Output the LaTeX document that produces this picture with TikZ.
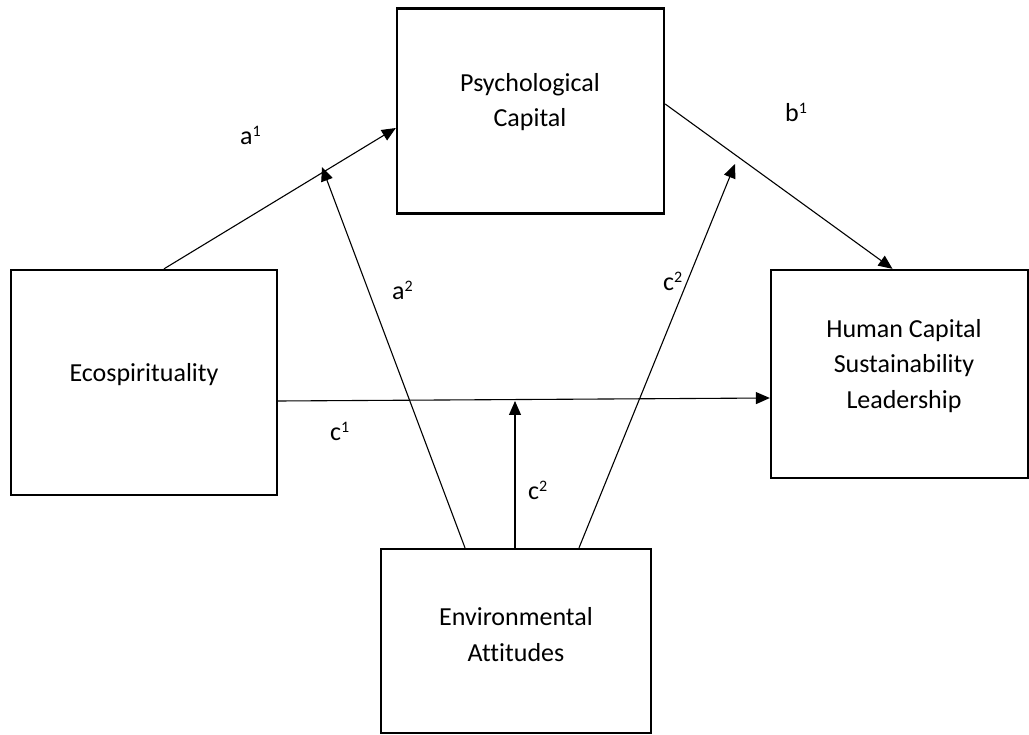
\documentclass[tikz,border=0pt]{standalone}
\usepackage{fontspec}
\setmainfont{Carlito}[Ligatures=NoCommon]
\usetikzlibrary{arrows.meta}
\newcommand\supnum[1]{\raisebox{8.5pt}{\fontsize{16}{16}\selectfont #1}}
\begin{document}
\begin{tikzpicture}[x=1pt,y=-1pt,
  box/.style={draw, line width=2.3pt, rectangle, inner sep=0pt},
  txt/.style={align=center, font=\fontsize{26}{35.5}\selectfont, inner sep=0pt},
  lab/.style={anchor=base west, inner sep=0pt, font=\fontsize{26}{30}\selectfont},
  arr/.style={line width=1.1pt, -{Triangle[length=14pt,width=12pt]}}]
\useasboundingbox (0,0) rectangle (1029,735);
% boxes
\node[box, minimum width=267pt, minimum height=205pt] (psy) at (530.5,111) {};
\node[box, minimum width=266pt, minimum height=225pt] (eco) at (144,382.5) {};
\node[box, minimum width=257pt, minimum height=208pt] (hum) at (899.5,374) {};
\node[box, minimum width=270pt, minimum height=184pt] (env) at (516,641) {};
% texts
\node[txt] (psyt) at (530,102) {Psychological\\Capital};
\node[txt] (ecot) at (144,375) {Ecospirituality};
\node[txt] (humt) at (904,366) {Human Capital\\Sustainability\\Leadership};
\node[txt] (envt) at (516,634.5) {Environmental\\Attitudes};
% moderation targets
\coordinate (m1) at (322,167);
\coordinate (m2) at (515,401);
\coordinate (m3) at (735,164);
% connectors
\draw[arr] ([xshift=20pt]eco.north) -- ([yshift=-17pt]psy.west);
\draw[arr] ([yshift=7pt]psy.east) -- ([xshift=-7pt]hum.north);
\draw[arr] ([yshift=-18.5pt]eco.east) -- ([yshift=-24pt]hum.west);
\draw[arr] ([xshift=-51pt]env.north) -- (m1);
\draw[arr] (m2 |- env.north) -- (m2);
\draw[arr] ([xshift=63pt]env.north) -- (m3);
% labels
\node[lab] (la1) at (240,145) {a\supnum{1}};
\node[lab] (lb1) at (785,122) {b\supnum{1}};
\node[lab] (la2) at (392,300) {a\supnum{2}};
\node[lab] (lc2a) at (663,291) {c\supnum{2}};
\node[lab] (lc1) at (330,441) {c\supnum{1}};
\node[lab] (lc2b) at (528,500) {c\supnum{2}};
\end{tikzpicture}
\end{document}
